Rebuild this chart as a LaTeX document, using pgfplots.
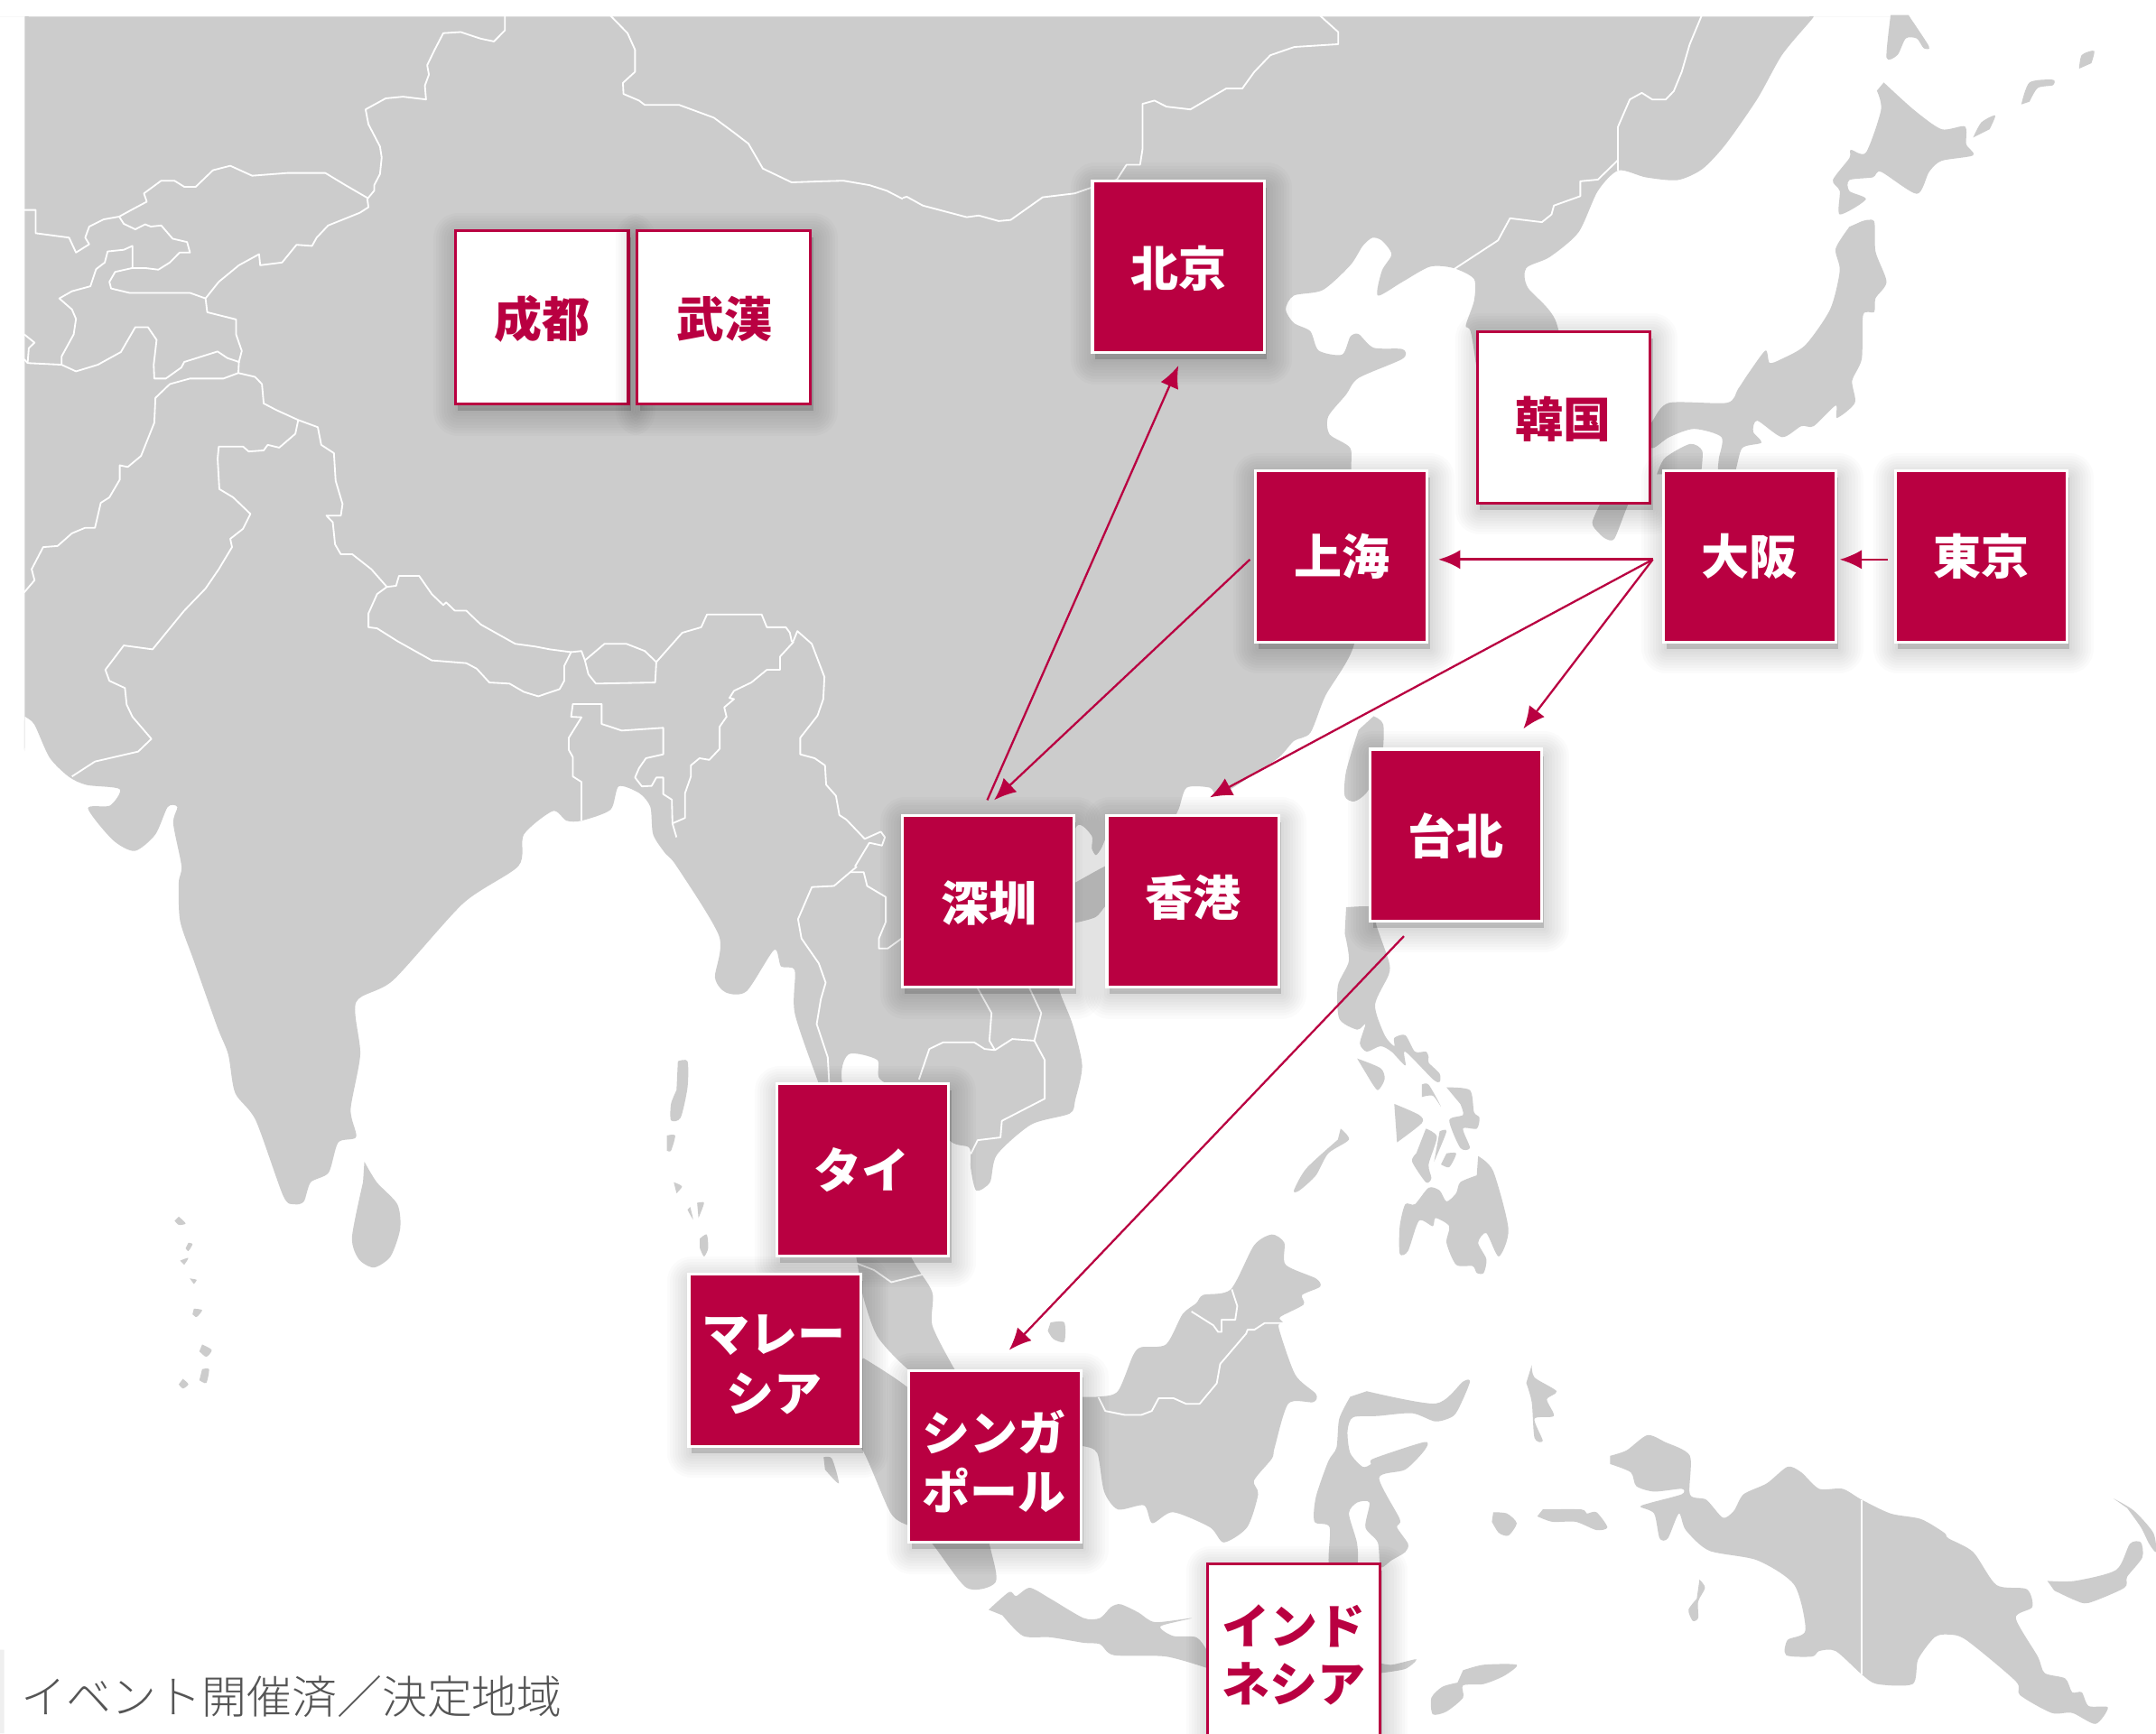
\documentclass[border=0pt]{standalone}
\usepackage{fontspec}
\usepackage{pgfplots}
\pgfplotsset{compat=1.18}
\usetikzlibrary{arrows.meta}
\newfontfamily\cjk{Noto Sans CJK JP}
\newfontfamily\cjklight{Noto Sans CJK JP Light}
\definecolor{landgray}{HTML}{CCCCCC}
\definecolor{crim}{HTML}{B90041}
\definecolor{capt}{HTML}{555555}
\pgfplotsset{
  land/.style={fill=landgray,draw=none,smooth,tension=0.45,mark=none,forget plot},
  bd/.style={draw=white,line width=0.6pt,line join=round,mark=none,forget plot},
  z1/.style={x filter/.expression={x*0.4187},y filter/.expression={y*0.402}},
  z2/.style={x filter/.expression={656.6+0.581*x},y filter/.expression={y*0.402}},
  z3/.style={x filter/.expression={x*0.5025},y filter/.expression={630.4+0.402*y}},
  z4/.style={x filter/.expression={787.9+0.4975*x},y filter/.expression={630.4+0.402*y}},
  arr/.style={draw=crim,line width=0.75pt,mark=none,forget plot,-{Latex[length=8pt,width=7pt]}},
}
% one soft shadow ring
\newcommand\shring[5]{\addplot[black,opacity=0.015,fill=black,line width=#5pt,line join=round,line cap=round,mark=none,forget plot]
  coordinates {(#1+2,#3+5) (#2+2,#3+5) (#2+2,#4+5) (#1+2,#4+5) (#1+2,#3+5)} --cycle;}
\newcommand\shadow[4]{\shring{#1}{#2}{#3}{#4}{2}\shring{#1}{#2}{#3}{#4}{4}\shring{#1}{#2}{#3}{#4}{6}\shring{#1}{#2}{#3}{#4}{8}\shring{#1}{#2}{#3}{#4}{10}\shring{#1}{#2}{#3}{#4}{12}\shring{#1}{#2}{#3}{#4}{14}\shring{#1}{#2}{#3}{#4}{16}\shring{#1}{#2}{#3}{#4}{18}}
\newcommand\redcard[4]{\shadow{#1}{#2}{#3}{#4}
  \addplot[draw=white,fill=crim,line width=1pt,mark=none,forget plot] coordinates {(#1,#3) (#2,#3) (#2,#4) (#1,#4) (#1,#3)} --cycle;}
\newcommand\whitecard[4]{\shadow{#1}{#2}{#3}{#4}
  \addplot[draw=crim,fill=white,line width=1pt,mark=none,forget plot] coordinates {(#1,#3) (#2,#3) (#2,#4) (#1,#4) (#1,#3)} --cycle;}
\begin{document}
\begin{tikzpicture}
\begin{axis}[x=0.5pt,y=0.5pt,y dir=reverse,scale only axis,
  xmin=0,xmax=1568,ymin=0,ymax=1261,hide axis,clip=true]
\addplot[fill=white,draw=none,mark=none,forget plot] coordinates {(0,0)(1568,0)(1568,1261)(0,1261)(0,0)};
\addplot[fill=black!10,draw=none,mark=none,forget plot,opacity=0.6] coordinates {(0,1200)(3,1200)(3,1261)(0,1261)(0,1200)};
% mainland Asia
\addplot[land] coordinates {(18,16)(18,13)(18,12)(21,12)(24,12)(1310,12)(1316,12)(1319,12)(1316,16)(1296,40)(1278,72)(1255,105)(1238,123)(1220,131)(1197,129)(1177,124)(1162,139)(1148,169)(1127,187)(1110,195)(1111,209)(1132,235)(1140,300)(1100,340)(1080,300)(1070,243)(1066,237)(1072,219)(1072,203)(1057,195)(1040,194)(1020,205)(1002,215)(1005,197)(1012,185)(1005,175)(998,173)(991,179)(982,193)(962,211)(941,215)(935,225)(941,235)(953,241)(959,255)(976,258)(982,245)(988,243)(999,253)(1020,254)(1020,261)(988,275)(979,287)(966,303)(967,316)(982,326)(983,345)(990,400)(985,468)(964,506)(953,533)(941,539)(930,551)(906,567)(886,579)(880,573)(863,573)(857,589)(850,596)(812,600)(805,608)(801,617)(797,622)(794,617)(794,608)(783,601)(770,640)(770,700)(770,719)(780,745)(787,775)(782,800)(778,810)(750,818)(725,840)(720,860)(710,866)(706,850)(705,835)(691,830)(665,800)(640,785)(638,771)(617,767)(613,790)(640,860)(663,915)(678,940)(678,964)(693,994)(700,1005)(680,1010)(658,994)(638,972)(628,944)(623,916)(610,850)(600,800)(595,787)(578,737)(578,706)(568,703)(563,691)(543,721)(528,722)(520,711)(523,681)(492,630)(484,621)(475,607)(473,587)(465,577)(450,572)(444,589)(423,597)(412,597)(402,590)(381,607)(377,630)(337,657)(286,713)(259,729)(262,767)(255,807)(259,827)(246,831)(239,853)(226,860)(221,874)(214,876)(206,870)(186,815)(171,795)(166,767)(158,747)(141,699)(131,670)(130,642)(132,630)(126,599)(129,587)(122,587)(113,607)(98,619)(82,611)(64,588)(80,586)(87,574)(63,571)(50,565)(36,551)(25,527)(18,521)(18,518)(18,16)};
% Hainan
\addplot[land] coordinates {(775,645)(782,642)(804,630)(810,630)(810,655)(804,659)(797,667)(783,671)(775,671)};
% Sumatra
\addplot[land] coordinates {(628,988)(661,1010)(700,1050)(720,1125)(724,1151)(703,1155)(678,1123)(663,1111)(648,1101)(628,1056)(600,1010)};
% Japan and the north
\addplot[land] coordinates {(1370,60)(1392,80)(1412,94)(1429,92)(1430,105)(1435,113)(1412,117)(1403,125)(1394,141)(1368,125)(1362,129)(1345,131)(1345,139)(1357,145)(1338,156)(1338,139)(1333,131)(1345,115)(1346,109)(1357,111)(1368,80)(1365,66)};
\addplot[land] coordinates {(1375,11)(1372,42)(1380,40)(1386,28)(1394,28)(1399,35)(1403,34)(1390,14)(1388,11)};
\addplot[land] coordinates {(1470,76)(1476,60)(1493,58)(1493,62)(1482,64)(1476,74)};
\addplot[land] coordinates {(1435,100)(1441,89)(1451,84)(1447,94)};
\addplot[land] coordinates {(1512,50)(1514,40)(1523,37)(1521,46)};
\addplot[land] coordinates {(1354,161)(1363,161)(1364,183)(1372,205)(1364,217)(1363,227)(1355,229)(1354,261)(1347,277)(1349,293)(1336,304)(1335,295)(1319,310)(1310,310)(1296,318)(1278,306)(1275,314)(1281,322)(1267,326)(1261,345)(1250,345)(1250,334)(1252,318)(1232,312)(1214,318)(1202,326)(1195,320)(1202,306)(1214,293)(1256,293)(1264,283)(1272,271)(1284,255)(1287,264)(1296,261)(1313,251)(1331,225)(1338,197)(1335,181)(1345,165)};
\addplot[land] coordinates {(1205,345)(1211,333)(1229,323)(1238,328)(1237,345)};
\addplot[land] coordinates {(1166,362)(1158,380)(1163,388)(1168,392)(1174,392)(1182,372)(1186,362)};
% Taiwan
\addplot[land] coordinates {(999,521)(1006,527)(1005,550)(995,575)(985,583)(978,579)(979,561)(988,531)};
% Philippines
\addplot[land] coordinates {(979,660)(1000,660)(1001,673)(1010,699)(1010,709)(1000,731)(1007,753)(1014,761)(1014,755)(1022,753)(1029,765)(1037,765)(1039,769)(1039,773)(1047,781)(1047,787)(1042,785)(1022,765)(1022,775)(1012,765)(1004,761)(994,765)(989,759)(993,745)(987,749)(974,741)(973,717)(981,699)(978,679)};
\addplot[land] coordinates {(987,770)(1004,777)(1007,785)(1002,793)(996,785)};
\addplot[land] coordinates {(1052,791)(1069,793)(1072,809)(1076,813)(1074,821)(1064,821)(1069,835)(1062,835)(1054,815)(1064,811)(1062,803)};
\addplot[land] coordinates {(1034,789)(1039,789)(1048,805)(1042,797)(1034,798)};
\addplot[land] coordinates {(1014,803)(1032,811)(1034,817)(1016,831)};
\addplot[land] coordinates {(1037,821)(1045,827)(1039,847)(1041,857)(1037,860)(1027,845)(1030,839)};
\addplot[land] coordinates {(1047,823)(1052,823)(1043,845)};
\addplot[land] coordinates {(1052,839)(1059,839)(1054,849)(1048,847)};
\addplot[land] coordinates {(1075,841)(1086,852)(1097,894)(1090,914)(1081,897)(1075,904)(1081,916)(1079,926)(1074,926)(1071,921)(1059,920)(1052,904)(1054,892)(1044,886)(1042,892)(1032,888)(1024,910)(1018,912)(1018,892)(1022,876)(1029,876)(1039,864)(1047,866)(1052,874)(1059,868)(1062,860)(1074,855)};
\addplot[land] coordinates {(975,821)(981,829)(966,839)(957,855)(945,866)(941,866)(950,850)(973,829)};
% Borneo
\addplot[land] coordinates {(780,1016)(799,1016)(813,1012)(824,986)(830,980)(848,978)(860,956)(870,948)(875,942)(895,938)(912,906)(925,898)(934,904)(935,920)(957,930)(960,936)(947,942)(948,949)(931,958)(933,962)(930,966)(942,1000)(957,1014)(955,1020)(937,1021)(927,1053)(925,1061)(912,1077)(915,1087)(907,1111)(890,1122)(880,1111)(853,1100)(838,1108)(832,1095)(813,1098)(803,1085)(798,1057)(788,1052)(780,1052)};
% Sulawesi and Maluku
\addplot[land] coordinates {(994,1012)(1044,1021)(1064,1005)(1069,1005)(1063,1020)(1057,1030)(1044,1034)(1027,1028)(1002,1030)(984,1031)(980,1041)(982,1057)(991,1067)(997,1065)(999,1061)(1036,1049)(1036,1055)(1022,1069)(1003,1075)(1018,1105)(1016,1111)(1024,1123)(1022,1129)(1012,1135)(1004,1140)(1002,1122)(993,1111)(996,1093)(987,1093)(981,1101)(987,1123)(986,1140)(967,1140)(967,1111)(956,1107)(957,1089)(966,1063)(972,1053)(974,1032)(982,1016)};
\addplot[land] coordinates {(1114,993)(1116,1002)(1132,1012)(1125,1018)(1130,1030)(1116,1032)(1122,1048)(1116,1046)(1114,1020)(1110,1006)};
\addplot[land] coordinates {(1086,1100)(1096,1101)(1103,1108)(1097,1117)(1090,1115)(1085,1107)};
\addplot[land] coordinates {(1122,1098)(1150,1098)(1154,1101)(1161,1100)(1169,1111)(1161,1113)(1146,1107)(1129,1107)(1118,1103)};
% New Guinea
\addplot[land] coordinates {(1171,1059)(1183,1055)(1198,1044)(1211,1049)(1229,1059)(1229,1087)(1241,1091)(1253,1104)(1261,1099)(1268,1087)(1285,1079)(1300,1067)(1310,1071)(1323,1083)(1340,1083)(1354,1091)(1375,1101)(1397,1105)(1414,1115)(1417,1119)(1435,1129)(1452,1153)(1474,1156)(1478,1169)(1466,1177)(1482,1205)(1487,1217)(1502,1221)(1507,1231)(1514,1231)(1519,1241)(1533,1242)(1524,1254)(1507,1246)(1492,1246)(1469,1233)(1466,1223)(1430,1193)(1417,1189)(1407,1191)(1395,1207)(1391,1225)(1365,1225)(1354,1218)(1335,1201)(1323,1201)(1318,1205)(1299,1204)(1300,1193)(1313,1186)(1305,1153)(1278,1135)(1243,1128)(1226,1113)(1221,1101)(1213,1119)(1207,1119)(1203,1101)(1193,1096)(1201,1093)(1223,1087)(1223,1083)(1203,1085)(1190,1081)(1186,1071)(1171,1065)};
\addplot[land] coordinates {(1236,1149)(1240,1155)(1235,1165)(1235,1177)(1231,1179)(1228,1171)(1234,1163)};
\addplot[land] coordinates {(1489,1150)(1509,1150)(1539,1142)(1549,1123)(1557,1122)(1558,1133)(1547,1147)(1545,1155)(1519,1166)(1509,1164)(1494,1157)};
\addplot[land] coordinates {(1537,1090)(1552,1099)(1566,1115)(1568,1129)(1563,1123)(1557,1111)(1547,1097)};
% Timor, Java, Sunda
\addplot[land] coordinates {(1064,1215)(1079,1211)(1103,1211)(1094,1219)(1079,1225)(1064,1226)(1064,1235)(1052,1245)(1042,1247)(1041,1235)(1049,1227)(1060,1224)};
\addplot[land] coordinates {(719,1171)(734,1158)(739,1161)(749,1155)(764,1163)(788,1177)(800,1177)(808,1169)(815,1167)(828,1173)(840,1180)(867,1177)(844,1183)(853,1190)(870,1191)(878,1201)(885,1216)(880,1214)(848,1205)(810,1204)(800,1196)(788,1195)(764,1191)(744,1190)(729,1175)};
\addplot[land] coordinates {(1000,1209)(1012,1211)(1030,1207)(1022,1214)(1004,1217)(1000,1217)};
% small islands
\addplot[land] coordinates {(493,772)(500,772)(500,791)(495,813)(488,815)(488,803)(492,793)};
\addplot[land] coordinates {(485,826)(491,826)(488,837)(485,837)};
\addplot[land] coordinates {(490,860)(496,863)(492,868)};
\addplot[land] coordinates {(507,875)(512,875)(508,886)};
\addplot[land] coordinates {(500,880)(504,887)(502,878)};
\addplot[land] coordinates {(509,901)(514,898)(515,908)(512,914)(509,908)};
\addplot[land] coordinates {(130,885)(135,890)(130,891)(127,888)};
\addplot[land] coordinates {(137,904)(140,905)(137,910)(135,908)};
\addplot[land] coordinates {(131,917)(137,915)(134,920)};
\addplot[land] coordinates {(138,930)(143,931)(141,934)};
\addplot[land] coordinates {(141,952)(147,953)(143,958)(140,956)};
\addplot[land] coordinates {(147,978)(154,982)(150,987)(145,983)};
\addplot[land] coordinates {(147,996)(152,996)(150,1006)(145,1004)};
\addplot[land] coordinates {(133,1003)(137,1007)(133,1010)(130,1007)};
\addplot[land] coordinates {(265,845)(274,860)(289,876)(291,894)(284,914)(272,922)(261,916)(256,900)(264,860)};
\addplot[land] coordinates {(599,1060)(605,1061)(610,1079)(600,1069)};
\addplot[land] coordinates {(764,962)(774,962)(774,976)(766,974)(762,968)};
% borders
\addplot[bd,z1] coordinates {(877,28)(877,55)(858,75)(835,70)(800,58)(770,60)(755,90)(742,118)(745,135)(738,155)(740,180)(700,175)(670,178)(635,198)(640,225)(660,265)(663,285)(660,315)(650,335)(650,345)(638,360)(640,375)(625,385)(570,408)(550,430)(542,445)(515,443)(490,475)(452,480)(450,460)(415,480)(380,510)(357,540)};
\addplot[bd,z1] coordinates {(638,358)(600,335)(565,313)(500,313)(438,318)(400,300)(370,308)(340,338)(320,338)(303,327)(280,327)(250,350)(255,365)(228,380)(207,392)(180,397)(155,410)(148,430)(155,442)(132,457)(120,430)(62,422)(62,380)(42,380)};
\addplot[bd,z1] coordinates {(207,392)(215,405)(235,415)(252,406)(262,410)(280,408)(300,432)(325,438)(330,457)(312,457)(295,475)(275,488)(252,485)(230,485)(230,445)(215,452)(187,455)(182,475)(167,487)(157,518)(125,527)(103,540)(125,560)(132,577)(128,605)(107,645)(107,660)(132,672)(170,660)(210,637)(235,592)(257,592)(272,615)(267,660)(268,685)(288,685)(315,665)(320,655)(378,636)(395,648)(415,655)(420,635)(415,620)(410,605)(410,578)(360,565)(357,540)(330,530)(225,530)(193,522)(190,510)(200,492)(230,485)};
\addplot[bd,z1] coordinates {(415,655)(414,675)(388,685)(330,685)(295,695)(270,720)(268,765)(245,825)(222,845)(208,842)(208,868)(190,900)(175,910)(165,955)(148,955)(125,965)(100,988)(75,990)(55,1030)(60,1050)(42,1072)};
\addplot[bd,z1] coordinates {(107,660)(48,657)(42,650)};
\addplot[bd,z1] coordinates {(42,605)(60,620)(50,630)(48,657)};
\addplot[bd,z1] coordinates {(414,675)(443,682)(455,695)(458,730)(480,742)(518,760)(552,773)(558,805)(580,820)(583,870)(595,912)(592,933)(567,933)(578,945)(582,985)(592,1003)(612,1003)(645,1030)(672,1062)};
\addplot[bd,z1] coordinates {(518,760)(513,785)(485,810)(465,805)(458,815)(432,817)(422,808)(380,808)(378,830)(381,885)(405,900)(435,930)(422,957)(400,975)(403,990)(380,1030)(357,1065)(320,1105)(265,1175)(215,1168)(183,1212)(190,1232)(217,1245)(220,1275)(230,1297)(263,1337)(240,1360)(165,1378)(125,1405)};
\addplot[bd,z1] coordinates {(672,1062)(655,1075)(640,1110)(640,1135)(655,1137)(690,1160)(750,1195)(810,1200)(828,1210)(850,1235)(885,1237)(910,1252)(935,1260)(972,1247)(980,1232)(980,1205)(992,1180)(955,1175)(930,1170)(895,1165)(835,1130)(810,1105)(790,1105)(775,1090)(770,1095)(750,1075)(728,1042)(693,1042)(688,1060)(672,1062)};
\addplot[bd,z1] coordinates {(992,1180)(1010,1178)(1016,1195)(1022,1220)(1035,1237)(1138,1235)(1140,1198)(1120,1178)(1088,1165)(1050,1165)(1016,1195)};
\addplot[bd,z1] coordinates {(1140,1198)(1185,1145)(1218,1135)(1228,1112)(1323,1112)(1332,1135)(1365,1135)(1372,1145)(1375,1160)(1378,1162)(1355,1188)(1355,1212)(1332,1212)(1305,1235)(1275,1250)(1267,1263)(1275,1265)(1258,1280)(1262,1297)(1250,1315)(1250,1355)(1232,1375)(1215,1372)(1200,1385)(1200,1405)(1190,1435)(1190,1480)(1168,1490)};
\addplot[bd,z1] coordinates {(1010,1485)(1010,1415)(995,1405)(995,1370)(988,1357)(988,1335)(1010,1298)(992,1297)(995,1274)(1045,1274)(1045,1310)(1080,1322)(1152,1317)(1152,1365)(1122,1372)(1110,1390)(1103,1407)(1115,1423)(1132,1422)(1140,1407)(1152,1407)(1152,1437)(1167,1447)(1168,1490)(1175,1515)};
\addplot[bd,z1] coordinates {(1378,1160)(1385,1142)(1410,1165)(1432,1225)(1430,1265)(1420,1295)(1390,1335)(1390,1365)(1415,1372)(1433,1385)(1435,1420)(1452,1440)(1458,1475)(1470,1483)(1502,1518)(1530,1505)(1537,1515)(1532,1530)(1510,1525)(1485,1568)};
\addplot[bd,z3] coordinates {(1240,0)(1207,35)(1175,37)(1155,95)(1160,130)(1185,175)(1195,210)(1188,240)(1182,285)(1198,345)(1200,390)};
\addplot[bd,z3] coordinates {(1230,10)(1250,10)(1255,35)(1282,55)(1282,100)(1272,130)(1272,148)(1285,148)(1305,130)};
\addplot[bd,z3] coordinates {(1415,220)(1435,265)(1432,315)(1440,332)(1425,330)(1410,318)(1365,318)(1345,330)(1330,385)};
\addplot[bd,z3] coordinates {(1490,220)(1507,265)(1497,315)(1512,350)(1512,420)(1450,460)(1448,490)(1415,495)(1405,520)};
\addplot[bd,z3] coordinates {(1440,332)(1465,312)(1497,315)};
\addplot[bd,z3] coordinates {(1240,718)(1265,730)(1290,752)(1345,735)};
\addplot[bd,z2] coordinates {(522,28)(545,58)(545,80)(490,85)(460,100)(440,130)(425,160)(405,160)(360,198)(330,193)(315,182)(300,188)(300,270)(297,298)(280,298)(268,325)(235,340)(215,350)(175,357)(135,398)(120,400)(95,390)(80,393)(25,372)(5,356)(0,358)};
\addplot[bd,z1] coordinates {(1568,360)(1540,345)(1510,335)(1465,327)(1430,328)(1375,330)(1325,305)(1300,260)(1275,240)(1240,213)(1180,190)(1120,190)(1110,182)(1083,170)(1082,150)(1103,130)(1103,90)(1090,60)(1060,28)};
\addplot[bd,z2] coordinates {(1000,28)(985,80)(975,130)(965,165)(955,180)(938,180)(925,168)(910,180)(895,230)(895,290)(870,325)(848,328)(848,355)(815,372)(812,388)(800,402)(760,395)(745,435)(690,487)};
\addplot[bd,z2] coordinates {(895,290)(895,308)};
\addplot[bd,z4] coordinates {(22,960)(32,985)(60,992)(85,992)(100,985)(110,962)(132,962)(150,972)(170,972)(195,935)(200,900)(238,845)(240,838)(250,838)(265,826)(292,826)};
\addplot[bd,z4] coordinates {(158,805)(190,830)(197,842)(202,842)(202,820)(222,820)(225,795)(217,765)};
\addplot[bd] coordinates {(1354,1091)(1354,1218)};
% cards
\whitecard{331}{457}{168}{294}
\whitecard{463.5}{589.5}{168}{294}
\redcard{794.5}{919.5}{131.5}{256.5}
\whitecard{1074.5}{1200}{241}{366}
\redcard{913}{1038}{342.5}{467}
\redcard{1210}{1335}{342.5}{467}
\redcard{1378.5}{1503}{342.5}{467}
\redcard{996.5}{1121}{545}{670}
\redcard{656}{781}{593}{718}
\redcard{805}{930}{593}{718}
\redcard{565}{690}{788.5}{913.5}
\redcard{501}{626}{927}{1052}
\redcard{661}{786}{997}{1122}
\whitecard{878.5}{1003.5}{1137.5}{1275}
% arrows
\addplot[arr] coordinates {(1373,407)(1338,407)};
\addplot[arr,line width=1pt] coordinates {(1202,407)(1046,407)};
\addplot[arr] coordinates {(1202,407)(1108,530)};
\addplot[arr] coordinates {(1202,407)(880,580)};
\addplot[arr] coordinates {(909,407)(723,582)};
\addplot[arr] coordinates {(718,582)(857,266)};
\addplot[arr] coordinates {(1021,681)(734,982)};
% labels
\tikzset{wl/.style={text=white,font=\cjk\bfseries\fontsize{17.4pt}{20pt}\selectfont,inner sep=0pt},
         rl/.style={text=crim,font=\cjk\bfseries\fontsize{17.4pt}{20pt}\selectfont,inner sep=0pt}}
\node[rl] at (axis cs:394,232) {成都};
\node[rl] at (axis cs:527,232) {武漢};
\node[wl] at (axis cs:857,195) {北京};
\node[rl] at (axis cs:1137,305) {韓国};
\node[wl] at (axis cs:976,405) {上海};
\node[wl] at (axis cs:1272,405) {大阪};
\node[wl] at (axis cs:1441,405) {東京};
\node[wl] at (axis cs:1059,608) {台北};
\node[wl] at (axis cs:719,657) {深圳};
\node[wl] at (axis cs:868,653) {香港};
\node[wl] at (axis cs:627,851) {タイ};
\node[wl] at (axis cs:563,971) {マレー};
\node[wl] at (axis cs:563,1014) {シア};
\node[wl] at (axis cs:723,1042) {シンガ};
\node[wl] at (axis cs:723,1084) {ポール};
\node[rl] at (axis cs:941,1183) {インド};
\node[rl] at (axis cs:941,1225) {ネシア};
\node[anchor=west,inner sep=0pt,text=capt,font=\cjklight\fontsize{16.4pt}{20pt}\selectfont] at (axis cs:15,1234) {イベント開催済／決定地域};
\end{axis}
\end{tikzpicture}
\end{document}
